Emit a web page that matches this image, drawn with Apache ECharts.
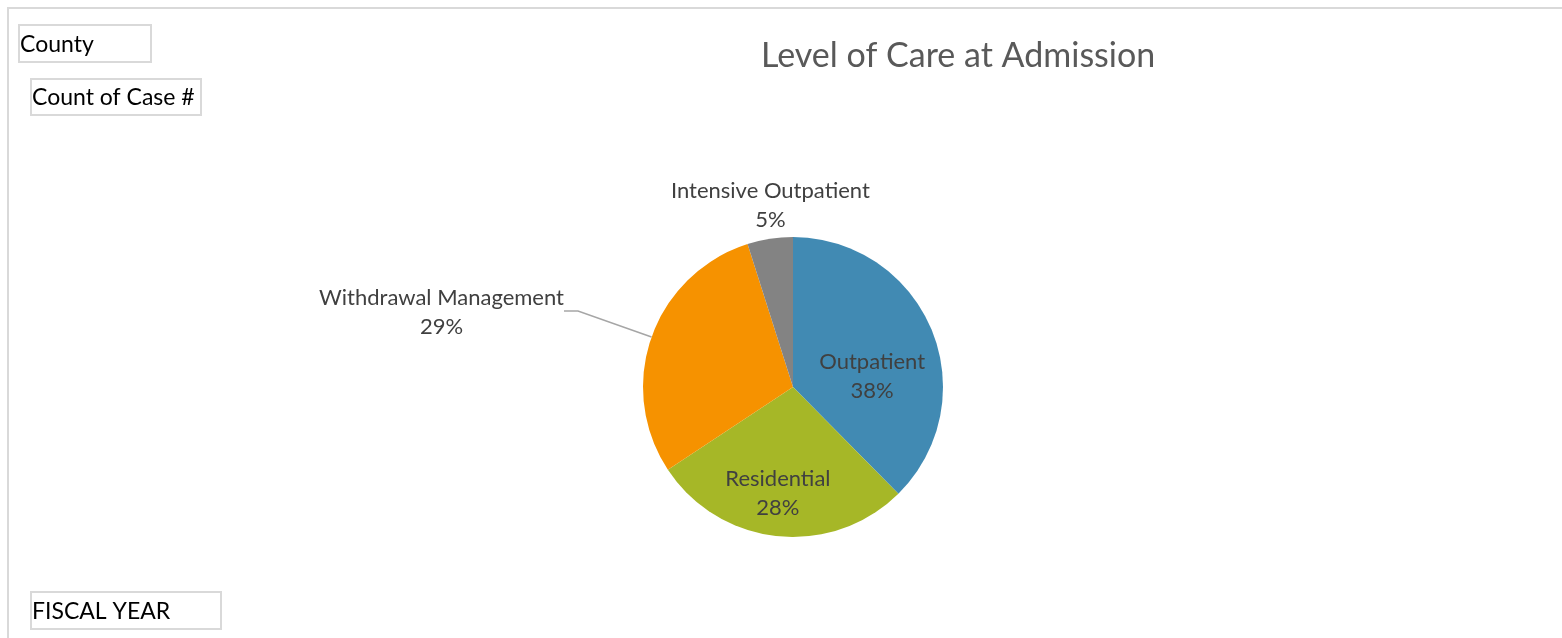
<!DOCTYPE html>
<html>
<head>
<meta charset="utf-8">
<script src="https://cdn.jsdelivr.net/npm/echarts@6/dist/echarts.min.js"></script>
<style>
  html, body { margin: 0; padding: 0; background: #fff; }
  #care-pie { width: 1562px; height: 638px; }
</style>
</head>
<body>
<div id="care-pie"></div>
<script>
// level of care counts
const careLevels = ["Outpatient", "Residential", "Withdrawal Management", "Intensive Outpatient"];
const careCounts = [376, 281, 294, 49];
const careColors = ["#418AB3", "#A6B727", "#F69200", "#838383"];

// pivot field buttons
const fieldButtons = ["County", "Count of Case #", "FISCAL YEAR"];

const labelFont = "Lato";
const txtColor = "#404040";

let myChart = echarts.init(document.getElementById("care-pie"));

let pieData = careLevels.map((name, i) => {
  let item = { name: name, value: careCounts[i], itemStyle: { color: careColors[i] } };
  if (i < 2) {
    item.label = { position: "inside" };
  } else if (i == 3) {
    item.labelLine = { show: false, length: 4, length2: 0 };
  }
  return item;
});

// small nudges so labels sit where the original had them
const labelNudge = [
  { dx: 7, dy: 19 },
  { dx: -7, dy: 29 },
  { dx: 3, dy: 1 },
  { dx: 4, dy: 0, align: "center", verticalAlign: "bottom" }
];

function button(x, y, w, h, text) {
  return {
    type: "group",
    left: x,
    top: y,
    children: [
      {
        type: "rect",
        shape: { x: 0, y: 0, width: w, height: h },
        style: { fill: "#fff", stroke: "#d9d9d9", lineWidth: 2 }
      },
      {
        type: "text",
        x: 1,
        y: h / 2 + 1,
        style: {
          text: text,
          fill: "#000",
          font: "23px " + labelFont,
          verticalAlign: "middle"
        }
      }
    ]
  };
}

myChart.setOption({
  title: {
    text: "Level of Care at Admission",
    left: 756,
    top: 34,
    textStyle: {
      fontFamily: labelFont,
      fontSize: 34,
      fontWeight: "normal",
      color: "#595959"
    }
  },
  graphic: [
    {
      type: "rect",
      shape: { x: 8, y: 8, width: 1600, height: 700 },
      style: { fill: "none", stroke: "#d9d9d9", lineWidth: 2 },
      z: -1
    },
    button(18, 24, 132, 37, fieldButtons[0]),
    button(30, 78, 170, 36, fieldButtons[1]),
    button(30, 591, 190, 37, fieldButtons[2])
  ],
  series: [
    {
      type: "pie",
      center: [793, 387],
      radius: 150,
      startAngle: 90,
      clockwise: true,
      percentPrecision: 0,
      avoidLabelOverlap: false,
      data: pieData,
      label: {
        formatter: "{t|{b}}\n{t|{d}%}",
        color: txtColor,
        fontFamily: labelFont,
        fontSize: 22,
        distanceToLabelLine: 3,
        rich: {
          t: {
            align: "center",
            color: txtColor,
            fontFamily: labelFont,
            fontSize: 22,
            lineHeight: 29
          }
        }
      },
      labelLine: {
        length: 78,
        length2: 14,
        smooth: false,
        lineStyle: { color: "#a6a6a6", width: 1.5 }
      },
      labelLayout: function (params) {
        return labelNudge[params.dataIndex] || {};
      },
      emphasis: { disabled: true }
    }
  ]
});
</script>
</body>
</html>
